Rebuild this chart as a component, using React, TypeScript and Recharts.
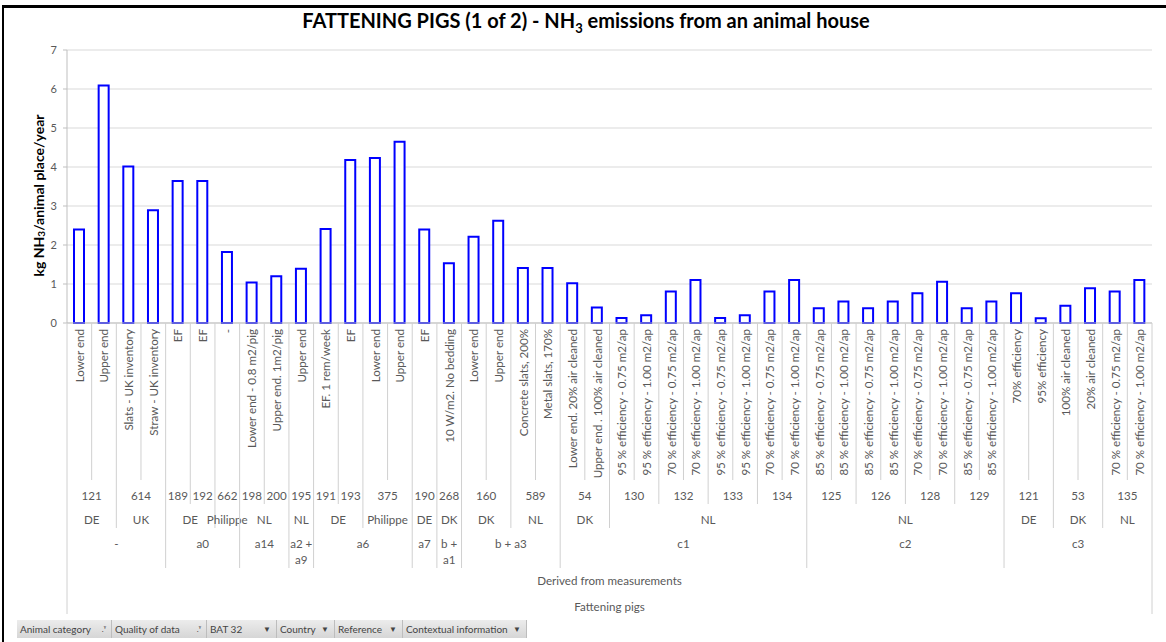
import React from "react";
import { BarChart, Bar, XAxis, YAxis, CartesianGrid } from "recharts";

const labels = [
  "Lower end", "Upper end", "Slats - UK inventory", "Straw - UK inventory", "EF", "EF", "-",
  "Lower end - 0.8 m2/pig", "Upper end. 1m2/pig", "Upper end", "EF. 1 rem/week", "EF",
  "Lower end", "Upper end", "EF", "10 W/m2. No bedding", "Lower end", "Upper end",
  "Concrete slats, 200%", "Metal slats, 170%", "Lower end. 20% air cleaned", "Upper end . 100% air cleaned",
  "95 % efficiency - 0.75 m2/ap", "95 % efficiency - 1.00 m2/ap", "70 % efficiency - 0.75 m2/ap", "70 % efficiency - 1.00 m2/ap",
  "95 % efficiency - 0.75 m2/ap", "95 % efficiency - 1.00 m2/ap", "70 % efficiency - 0.75 m2/ap", "70 % efficiency - 1.00 m2/ap",
  "85 % efficiency - 0.75 m2/ap", "85 % efficiency - 1.00 m2/ap", "85 % efficiency - 0.75 m2/ap", "85 % efficiency - 1.00 m2/ap",
  "70 % efficiency - 0.75 m2/ap", "70 % efficiency - 1.00 m2/ap", "85 % efficiency - 0.75 m2/ap", "85 % efficiency - 1.00 m2/ap",
  "70% efficiency", "95% efficiency", "100% air cleaned", "20% air cleaned",
  "70 % efficiency - 0.75 m2/ap", "70 % efficiency - 1.00 m2/ap",
];

const emissions = [
  2.4, 6.09, 4.01, 2.89, 3.64, 3.64, 1.82, 1.04, 1.2, 1.39, 2.41, 4.18, 4.23, 4.65, 2.4, 1.53,
  2.21, 2.62, 1.41, 1.41, 1.02, 0.4, 0.13, 0.2, 0.81, 1.1, 0.13, 0.2, 0.81, 1.1,
  0.38, 0.55, 0.38, 0.55, 0.76, 1.06, 0.38, 0.55, 0.76, 0.12, 0.44, 0.89, 0.81, 1.1,
];

const references = [
  "121", "121", "614", "614", "189", "192", "662", "198", "200", "195", "191", "193", "375", "375",
  "190", "268", "160", "160", "589", "589", "54", "54", "130", "130", "132", "132", "133", "133",
  "134", "134", "125", "125", "126", "126", "128", "128", "129", "129", "121", "121", "53", "53", "135", "135",
];

const countries = [
  "DE", "DE", "UK", "UK", "DE", "DE", "Philippe", "NL", "NL", "NL", "DE", "DE", "Philippe", "Philippe",
  "DE", "DK", "DK", "DK", "NL", "NL", "DK", "DK", "NL", "NL", "NL", "NL", "NL", "NL",
  "NL", "NL", "NL", "NL", "NL", "NL", "NL", "NL", "NL", "NL", "DE", "DE", "DK", "DK", "NL", "NL",
];

const bat32 = [
  "-", "-", "-", "-", "a0", "a0", "a0", "a14", "a14", "a2 + a9", "a6", "a6", "a6", "a6",
  "a7", "b + a1", "b + a3", "b + a3", "b + a3", "b + a3", "c1", "c1", "c1", "c1", "c1", "c1", "c1", "c1",
  "c1", "c1", "c2", "c2", "c2", "c2", "c2", "c2", "c2", "c2", "c3", "c3", "c3", "c3", "c3", "c3",
];

const qualityOfData = "Derived from measurements";
const animalCategory = "Fattening pigs";
const yTicks = [0, 1, 2, 3, 4, 5, 6, 7];
const filterButtons = ["Animal category", "Quality of data", "BAT 32", "Country", "Reference", "Contextual information"];

const data = labels.map((label, i) => ({ label, value: emissions[i] }));

const FONT = "Lato, 'Noto Sans', sans-serif";
const TEXT = "#595959";
const SEP = "#d0d0d0";
const W = 1166;
const H = 642;
const MARGIN = { top: 50, right: 14, bottom: 27, left: 20 };
const Y_W = 47;
const X_H = 292;
const N = labels.length;
const STEP = (W - MARGIN.left - MARGIN.right - Y_W) / N;
const PLOT_MID = MARGIN.top + (H - MARGIN.top - MARGIN.bottom - X_H) / 2;

// rows of the multi-level category axis, outermost last
const groupRows = [references, countries, bat32];
// how far a separator drops below the axis, by depth 1..6
const sepDepth = [157, 181, 205, 245, 269, 291];
const rowTextY = [172, 196, 220, 257, 283];

function depthAt(i: number) {
  if (i === 0 || i === N) return 6;
  for (let k = groupRows.length - 1; k >= 0; k--) {
    if (groupRows[k][i] !== groupRows[k][i - 1]) return k + 2;
  }
  return 1;
}

function CategoryTick(props: any) {
  const { x, y, payload } = props;
  const i: number = props.index ?? payload.index;
  const half = STEP / 2;
  const items: React.ReactNode[] = [];
  const txt = { fill: TEXT, fontSize: 11.6, fontFamily: FONT };

  items.push(<line key="s" x1={x - half} x2={x - half} y1={y} y2={y + sepDepth[depthAt(i) - 1]} stroke={SEP} />);
  if (i === N - 1) {
    items.push(<line key="e" x1={x + half} x2={x + half} y1={y} y2={y + sepDepth[5]} stroke={SEP} />);
  }
  items.push(
    <text key="l" x={x} y={y + 6} transform={`rotate(-90 ${x} ${y + 6})`} textAnchor="end" dominantBaseline="central" {...txt}>
      {labels[i]}
    </text>
  );

  groupRows.forEach((row, k) => {
    const level = k + 2;
    if (depthAt(i) < level) return;
    let end = i;
    while (end + 1 < N && depthAt(end + 1) < level) end++;
    const cx = x + (end - i) * half;
    const t = row[i];
    const lines = end === i && t.includes(" + ") ? t.replace(" + ", " +\n").split("\n") : [t];
    lines.forEach((ln, j) => (
      items.push(
        <text key={`g${k}-${j}`} x={cx} y={y + rowTextY[k] + j * 16} textAnchor="middle" dominantBaseline="central" {...txt}>
          {ln}
        </text>
      )
    ));
  });

  if (i === 0) {
    const cx = x + (N - 1) * half;
    items.push(<text key="q" x={cx} y={y + rowTextY[3]} textAnchor="middle" dominantBaseline="central" {...txt}>{qualityOfData}</text>);
    items.push(<text key="a" x={cx} y={y + rowTextY[4]} textAnchor="middle" dominantBaseline="central" {...txt}>{animalCategory}</text>);
  }
  return <g>{items}</g>;
}

function YTitle() {
  const cx = 38;
  const cy = PLOT_MID + 9;
  return (
    <text x={cx} y={cy} transform={`rotate(-90 ${cx} ${cy})`} textAnchor="middle" dominantBaseline="central"
      fontFamily={FONT} fontWeight="bold" fontSize={14} fill="#000">
      kg NH<tspan fontSize={10} dy={3}>3</tspan><tspan dy={-3}>/animal place/year</tspan>
    </text>
  );
}

export default function App() {
  return (
    <div style={{ position: "absolute", left: 0, top: 0, width: W, height: H, background: "#fff", overflow: "hidden" }}>
      <div style={{ position: "absolute", left: 2, top: 5, width: W, height: H, borderTop: "3px solid #000", borderLeft: "2px solid #000" }} />
      <div style={{ position: "absolute", left: 286, top: 8, width: 600, textAlign: "center", fontFamily: FONT, fontWeight: "bold", fontSize: 20, color: "#000", whiteSpace: "nowrap" }}>
        FATTENING PIGS (1 of 2) - NH<sub style={{ fontSize: 13 }}>3</sub> emissions from an animal house
      </div>
      <div style={{ position: "absolute", left: 0, top: 0 }}>
        <BarChart width={W} height={H} data={data} margin={MARGIN}>
          <CartesianGrid vertical={false} stroke="#d9d9d9" />
          <XAxis dataKey="label" interval={0} height={X_H} tickLine={false} tickSize={0} tickMargin={0}
            axisLine={{ stroke: "#bfbfbf" }} tick={<CategoryTick />} />
          <YAxis domain={[0, 7]} ticks={yTicks} width={Y_W} tickSize={4} tickMargin={6}
            axisLine={{ stroke: "#bfbfbf" }} tickLine={{ stroke: "#bfbfbf" }}
            tick={{ fill: TEXT, fontSize: 11, fontFamily: FONT }} label={<YTitle />} />
          <Bar dataKey="value" fill="#fff" stroke="#0000ff" strokeWidth={2} barSize={10} isAnimationActive={false} />
        </BarChart>
      </div>
      <div style={{ position: "absolute", left: 17, top: 620, height: 18, display: "flex", background: "#d8d8d8" }}>
        {filterButtons.map((b, i) => (
          <div key={b} style={{
            display: "flex", alignItems: "center", justifyContent: "space-between", boxSizing: "border-box",
            width: [95, 95, 70, 58, 68, 124][i], height: 18, padding: "0 5px 0 3px", borderRight: "1px solid #bdbdbd",
            background: "linear-gradient(#ececec, #d6d6d6)", fontFamily: FONT, fontSize: 10, color: "#444",
          }}>
            <span>{b}</span>
            <span style={{ fontSize: 8 }}>{i < 2 ? ".ᵞ" : "▼"}</span>
          </div>
        ))}
      </div>
    </div>
  );
}
